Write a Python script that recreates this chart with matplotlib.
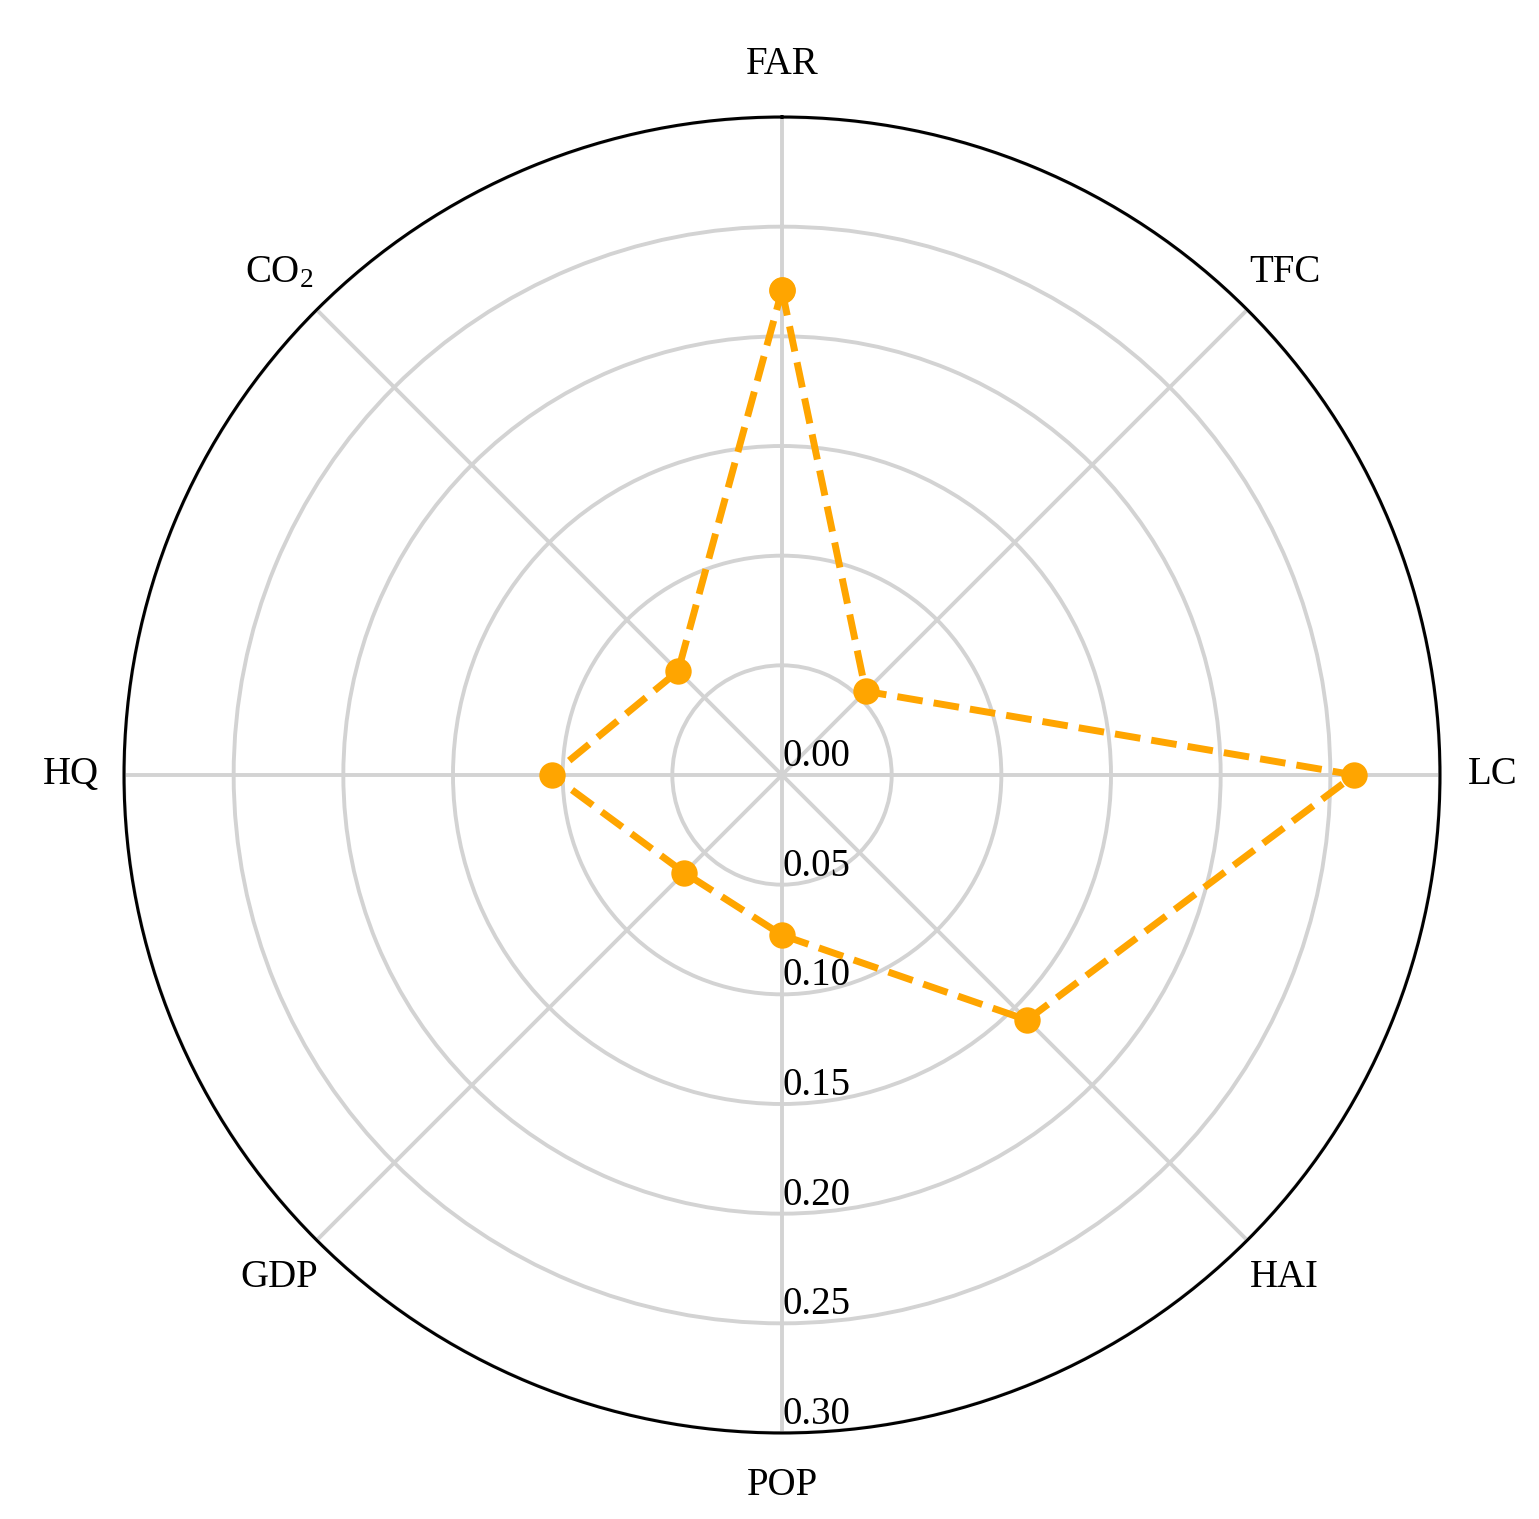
import numpy as np
import matplotlib
matplotlib.use("Agg")
import matplotlib.pyplot as plt

plt.rcParams['font.family'] = ['Liberation Serif', 'DejaVu Serif']
plt.rcParams['mathtext.fontset'] = 'custom'
plt.rcParams['mathtext.rm'] = 'Liberation Serif'
plt.rcParams['mathtext.it'] = 'Liberation Serif:italic'

labels = ['FAR', 'TFC', 'LC', 'HAI', 'POP', 'GDP', 'HQ', 'CO$_2$']
values = [0.221, 0.054, 0.261, 0.158, 0.073, 0.063, 0.105, 0.067]
rticks = [0.00, 0.05, 0.10, 0.15, 0.20, 0.25, 0.30]

n = len(labels)
angles = np.linspace(0, 2 * np.pi, n, endpoint=False)
ang_closed = np.append(angles, angles[0])
val_closed = np.append(values, values[0])

fig = plt.figure(figsize=(1539 / 200, 1519 / 200), dpi=200)
ax = fig.add_axes([124 / 1539, 86 / 1519, 1316 / 1539, 1316 / 1519], projection='polar')
ax.set_theta_offset(np.pi / 2)
ax.set_theta_direction(-1)

ax.plot(ang_closed, val_closed, color='orange', linestyle='--', linewidth=2.5,
        marker='o', markersize=8.5)

ax.set_ylim(0, 0.30)
ax.set_yticks(rticks)
ax.set_yticklabels([f'{t:.2f}' for t in rticks], fontsize=14)
ax.set_rlabel_position(180)
ax.set_xticks(angles)
ax.set_xticklabels(labels, fontsize=14)
ax.tick_params(axis='x', pad=8.5)
ax.grid(color='lightgray', linewidth=1.4)
ax.spines['polar'].set_linewidth(1.1)

fig.savefig('out.png', dpi=200)
